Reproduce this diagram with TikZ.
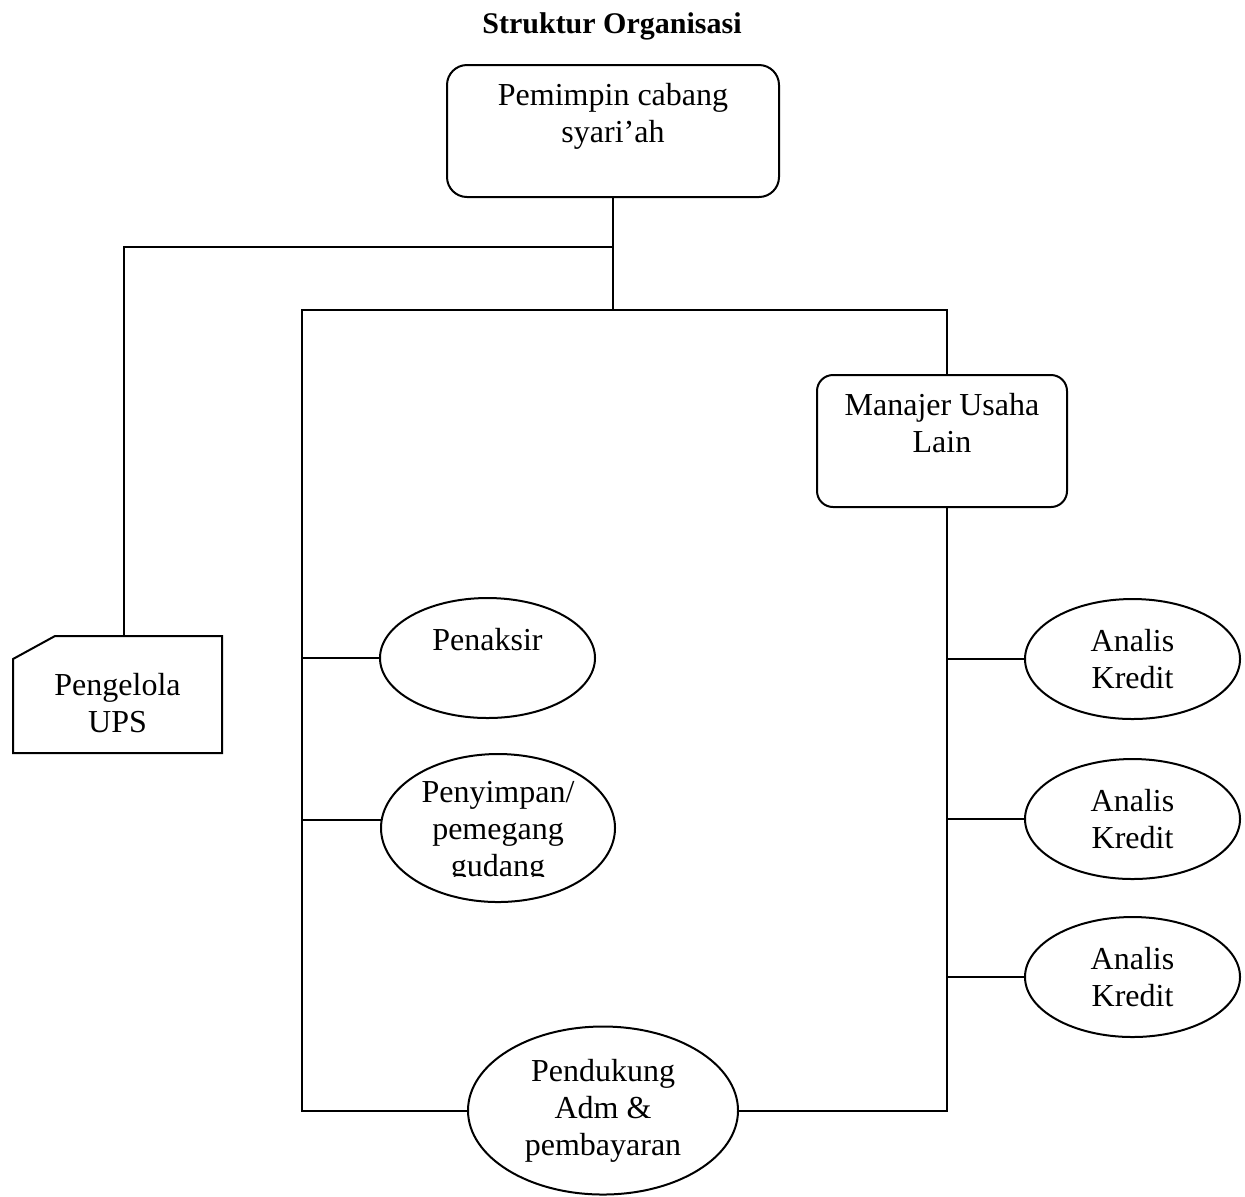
\documentclass[tikz,border=0pt]{standalone}
\usepackage{fontspec}
\setmainfont{Liberation Serif}
\usepackage{tikz}
\usetikzlibrary{shapes.geometric,positioning,calc}
\usepackage{xcolor}
\definecolor{orgInk}{HTML}{000000}
\tikzset{
  orgtxt/.style={font=\fontsize{16pt}{18.5pt}\selectfont, align=center, inner sep=0pt, text=orgInk},
  orgbox/.style={orgtxt, draw=orgInk, rectangle, rounded corners=10pt},
  orgell/.style={orgtxt, draw=orgInk, ellipse, minimum width=107.5pt, minimum height=60pt},
  link/.style={draw=orgInk},
}

\begin{document}
\begin{tikzpicture}[x=0.5pt,y=-0.5pt,line width=1pt]
            \useasboundingbox (0,0) rectangle (1245,1196);
            % title
            \node[orgtxt, font=\fontsize{15pt}{18pt}\selectfont\bfseries, anchor=base] (title) at (612,33) {Struktur Organisasi};
            % leader and manager
            \node[orgbox, minimum width=166pt, minimum height=66pt] (lead) at (613,131) {Pemimpin cabang\\syari’ah\\\mbox{}};
            \node[orgbox, rounded corners=8pt, minimum width=125pt, minimum height=66pt] (mgr) at (942,441) {Manajer Usaha\\Lain\\\mbox{}};
            \coordinate (mgrTop) at ($(mgr.north)+(5,0)$);
            \coordinate (mgrBot) at ($(mgr.south)+(5,0)$);
            % UPS card
            \draw[link] (13,659) -- (55,636) -- (222,636) -- (222,753) -- (13,753) -- cycle;
            \coordinate (upsTop) at (124,636);
            \node[orgtxt] (ups) at (117.5,703) {Pengelola\\UPS};
            % left staff
            \node[orgell] (appraiser) at (487.5,658) {Penaksir\\\mbox{}};
            \node[orgell, minimum width=117pt, minimum height=74pt] (store) at (498,828) {};
            \begin{scope}
                \clip (381,750) rectangle (615,876);
                \node[orgtxt] (storeTxt) at (498,832.5) {Penyimpan/\\pemegang\\gudang};
            \end{scope}
            \node[orgell, minimum width=135pt, minimum height=84pt] (adm) at (603,1110.5) {Pendukung\\Adm \&\\pembayaran};
            % right staff
            \foreach \n/\y in {1/659, 2/819, 3/977} {
                \node[orgell] (credit\n) at (1132.5,\y) {Analis\\Kredit};
            }
            % connectors
            \coordinate (fork) at (613,247);
            \coordinate (spineTop) at (613,310);
            \coordinate (spineL) at (302,310);
            \draw[link] (lead.south) -- (spineTop);
            \draw[link] (fork) -| (upsTop);
            \draw[link] (adm.west) -| (spineL) -| (mgrTop);
            \draw[link] (adm.east) -| (mgrBot);
            \draw[link] (appraiser.west) -- (appraiser.west -| spineL);
            \draw[link] (store.176) -- (store.176 -| spineL);
            \foreach \n in {1,2,3} {
                \draw[link] (credit\n.west) -- (credit\n.west -| mgrBot);
            }
        \end{tikzpicture}
\end{document}
